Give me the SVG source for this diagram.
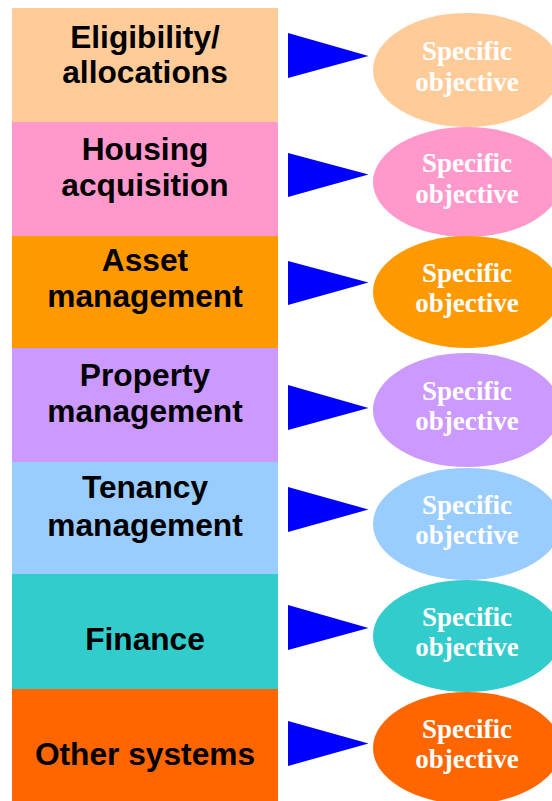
<svg xmlns="http://www.w3.org/2000/svg" width="552" height="801" viewBox="0 0 552 801">
<style>
.lbl{font-family:"Liberation Sans",Arial,sans-serif;font-weight:bold;font-size:31.7px;fill:#000;text-anchor:middle}
.obj{font-family:"Liberation Serif","Times New Roman",serif;font-weight:bold;font-size:27px;fill:#fff;text-anchor:middle}
.arr{fill:#0000FF}
</style>
<rect width="552" height="801" fill="#fff"/>
<g id="n-eligibility"><rect x="12" y="8" width="266" height="114" fill="#FFCC99"/><text class="lbl" x="145" y="47.5">Eligibility/</text><text class="lbl" x="145" y="83">allocations</text></g>
<g id="n-housing"><rect x="12" y="122" width="266" height="114" fill="#FF99CC"/><text class="lbl" x="145" y="159.5">Housing</text><text class="lbl" x="145" y="196">acquisition</text></g>
<g id="n-asset"><rect x="12" y="236" width="266" height="112" fill="#FF9900"/><text class="lbl" x="145" y="271">Asset</text><text class="lbl" x="145" y="307">management</text></g>
<g id="n-property"><rect x="12" y="348" width="266" height="114" fill="#CC99FF"/><text class="lbl" x="145" y="386">Property</text><text class="lbl" x="145" y="422">management</text></g>
<g id="n-tenancy"><rect x="12" y="462" width="266" height="112" fill="#99CCFF"/><text class="lbl" x="145" y="498">Tenancy</text><text class="lbl" x="145" y="536">management</text></g>
<g id="n-finance"><rect x="12" y="574" width="266" height="115" fill="#33CCCC"/><text class="lbl" x="145" y="649.5">Finance</text></g>
<g id="n-other"><rect x="12" y="689" width="266" height="112" fill="#FF6600"/><text class="lbl" x="145" y="764.5">Other systems</text></g>
<g id="o1"><ellipse cx="467" cy="70" rx="94" ry="57" fill="#FFCC99"/><text class="obj" x="467" y="60">Specific</text><text class="obj" x="467" y="90.5">objective</text></g>
<g id="o2"><ellipse cx="467" cy="182" rx="94" ry="55" fill="#FF99CC"/><text class="obj" x="467" y="172">Specific</text><text class="obj" x="467" y="202.5">objective</text></g>
<g id="o3"><ellipse cx="467" cy="292" rx="94" ry="56" fill="#FF9900"/><text class="obj" x="467" y="281.5">Specific</text><text class="obj" x="467" y="311.5">objective</text></g>
<g id="o4"><ellipse cx="467" cy="410" rx="94" ry="57" fill="#CC99FF"/><text class="obj" x="467" y="399.5">Specific</text><text class="obj" x="467" y="430">objective</text></g>
<g id="o5"><ellipse cx="467" cy="524" rx="94" ry="56" fill="#99CCFF"/><text class="obj" x="467" y="513.5">Specific</text><text class="obj" x="467" y="544">objective</text></g>
<g id="o6"><ellipse cx="467" cy="636" rx="94" ry="56" fill="#33CCCC"/><text class="obj" x="467" y="625.5">Specific</text><text class="obj" x="467" y="656">objective</text></g>
<g id="o7"><ellipse cx="467" cy="748" rx="94" ry="56" fill="#FF6600"/><text class="obj" x="467" y="737.5">Specific</text><text class="obj" x="467" y="768">objective</text></g>
<g id="connectors">
<polygon class="arr" points="288,33 368.5,56 288,78"/>
<polygon class="arr" points="288,153 368.5,174.5 288,197"/>
<polygon class="arr" points="288,261 368.5,282.5 288,305"/>
<polygon class="arr" points="288,385 368.5,408 288,430"/>
<polygon class="arr" points="288,487 368.5,509.5 288,532"/>
<polygon class="arr" points="288,605 368.5,628 288,650"/>
<polygon class="arr" points="288,721 368.5,743.5 288,766"/>
</g>
</svg>
